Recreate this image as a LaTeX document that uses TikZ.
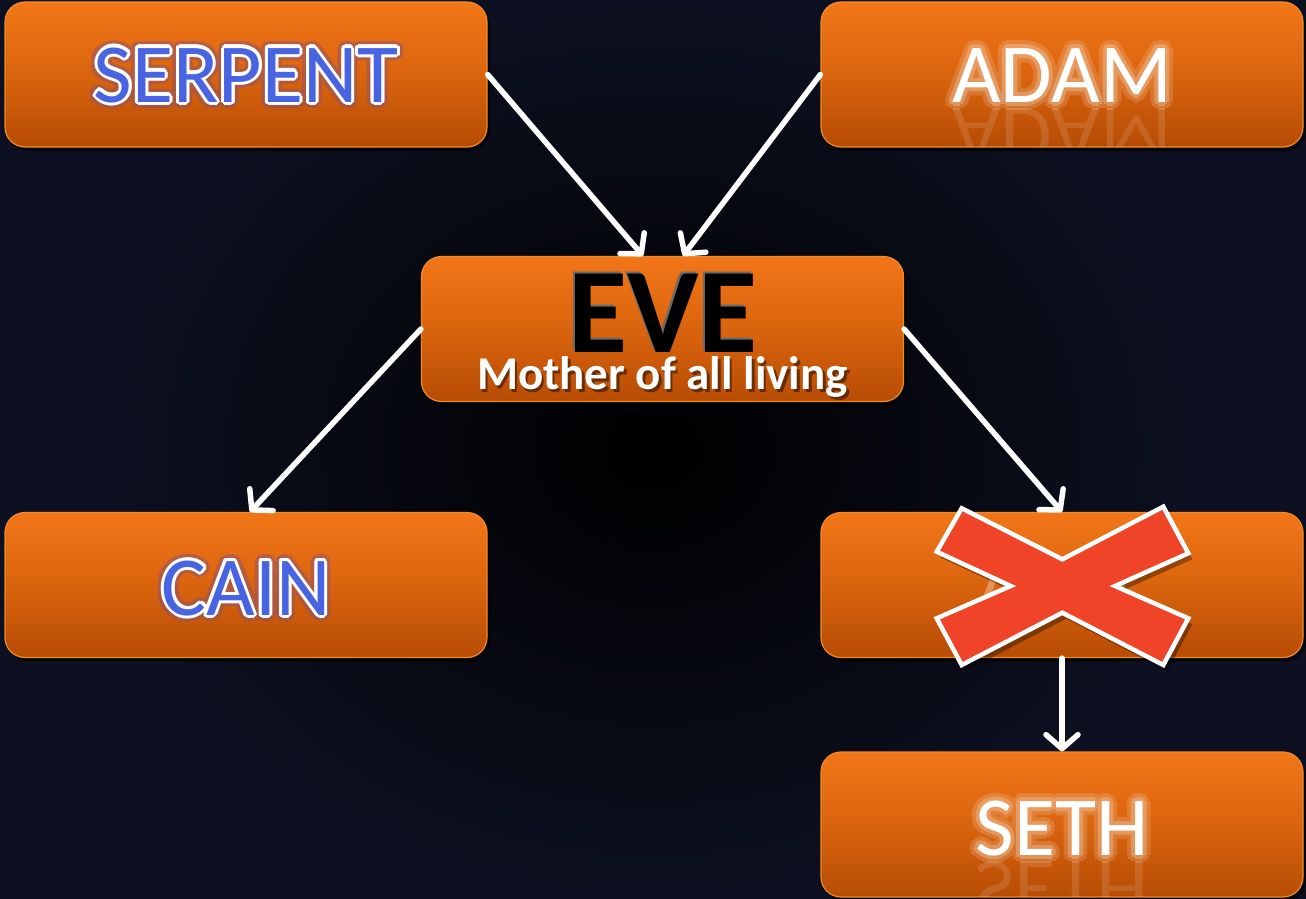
\documentclass[tikz,border=0pt]{standalone}
\usepackage{fontspec}
\setmainfont{Carlito}
\usetikzlibrary{arrows.meta,shadows,calc}
\definecolor{otop}{HTML}{F27618}
\definecolor{omid}{HTML}{DA640E}
\definecolor{obot}{HTML}{B64C04}
\definecolor{oedge}{HTML}{F08A2A}
\definecolor{bgout}{HTML}{0D1020}
\definecolor{txtblue}{HTML}{4864E2}
\definecolor{glowpurple}{HTML}{7A4A8C}
\definecolor{glowwhite}{HTML}{F6D2B4}
\definecolor{xred}{HTML}{EF4427}
\definecolor{bevel}{HTML}{6A6A6A}
\newcommand\bigfont{\fontsize{84}{90}\selectfont}
\newcommand\evefont{\bfseries\fontsize{121}{130}\selectfont}
\newcommand\subfont{\bfseries\fontsize{47}{52}\selectfont}
\tikzset{
  box/.style={rounded corners=20pt, minimum width=482pt, minimum height=145pt,
    inner sep=0pt, top color=otop, bottom color=obot, middle color=omid,
    draw=oedge, line width=1.2pt,
    drop shadow={shadow xshift=3pt, shadow yshift=-4pt, opacity=0.55, fill=black}},
  conn/.style={draw=white, line width=5.5pt, line cap=round,
    -{Straight Barb[length=14pt,width=32pt,round]}},
  txt/.style={anchor=base, inner sep=0pt},
}
% blue text with white outline and purple glow
\newcommand\bluetext[3]{%
  \begin{scope}[transparency group, opacity=0.4]
    \foreach \a in {0,30,...,330}{\node[txt,font=\bigfont,text=glowpurple] at ($(#2)+(\a:6.5pt)$) {#3};}
  \end{scope}
  \foreach \a in {0,30,...,330}{\node[txt,font=\bigfont,text=white] at ($(#2)+(\a:3pt)$) {#3};}
  \node[txt,font=\bigfont,text=txtblue] (#1) at (#2) {#3};
}
% white text with soft glow and reflection (#4 = box name for clipping)
\newcommand\whitetext[4]{%
  \begin{scope}
    \clip[rounded corners=20pt] ($(#4.north west)+(1,1)$) rectangle ($(#4.south east)+(-1,-1)$);
    \begin{scope}[transparency group, opacity=0.12]
      \node[txt,font=\bigfont,text=white,yscale=-1] at ($(#2)+(0,6)$) {#3};
    \end{scope}
  \end{scope}
  \begin{scope}[transparency group, opacity=0.22]
    \foreach \a in {0,30,...,330}{\node[txt,font=\bigfont,text=glowwhite] at ($(#2)+(\a:8pt)$) {#3};}
  \end{scope}
  \begin{scope}[transparency group, opacity=0.35]
    \foreach \a in {0,45,...,315}{\node[txt,font=\bigfont,text=glowwhite] at ($(#2)+(\a:4pt)$) {#3};}
  \end{scope}
  \node[txt,font=\bigfont,text=white] (#1) at (#2) {#3};
}
\begin{document}
\begin{tikzpicture}[x=1pt,y=-1pt]
\useasboundingbox (0,0) rectangle (1306,899);
\fill[bgout] (0,0) rectangle (1306,899);
\shade[inner color=black, outer color=bgout] (113,0) rectangle (1193,899);

% boxes
\node[box] (serpent) at (246,74.5) {};
\node[box] (adam)    at (1062,74.5) {};
\node[box] (eve)     at (662.5,329) {};
\node[box] (cain)    at (246,585) {};
\node[box] (abel)    at (1062,585) {};
\node[box] (seth)    at (1062,824.5) {};

% texts
\bluetext{tserpent}{246,102}{SERPENT}
\whitetext{tadam}{1062,102}{ADAM}{adam}
\bluetext{tcain}{246,615}{CAIN}
\whitetext{tseth}{1062,855}{SETH}{seth}
\begin{scope}[transparency group, opacity=0.3]
  \node[txt,font=\bigfont,text=white] (tabel) at (1062,615) {ABEL};
\end{scope}

% EVE
\node[txt,font=\evefont,text=bevel] at (661,350.5) {EVE};
\node[txt,font=\evefont,text=black] (teve) at (663,352.5) {EVE};
\node[txt,font=\subfont,text=black,opacity=0.45] at (665,392) {Mother of all living};
\node[txt,font=\subfont,text=white] (tmother) at (662.5,389.5) {Mother of all living};

% connectors
\draw[conn] (serpent.east) -- ($(eve.north)+(-19.5,0)$);
\draw[conn] (adam.west) -- ($(eve.north)+(20.5,0)$);
\draw[conn] (eve.west) -- ($(cain.north)+(4,0)$);
\draw[conn] (eve.east) -- (abel.north);
\draw[conn] (abel.south) -- (seth.north);

% red cross
\fill[black,opacity=0.35] ($(abel.center)+(4,6)$) ++(-125.3,-33.3) -- ++(25,-43.4) -- ++(100.6,51) -- ++(101,-52.6) -- ++(25,46.6) -- ++(-73.3,32.7) -- ++(73.3,32.3) -- ++(-25,46.7) -- ++(-101,-52.3) -- ++(-100.6,52.3) -- ++(-25,-46.7) -- ++(74,-32.3) -- cycle;
\draw[fill=xred, draw=white, line width=4.5pt, line join=miter]
  ($(abel.center)$) ++(-125.3,-33.3) -- ++(25,-43.4) -- ++(100.6,51) -- ++(101,-52.6) -- ++(25,46.6) -- ++(-73.3,32.7) -- ++(73.3,32.3) -- ++(-25,46.7) -- ++(-101,-52.3) -- ++(-100.6,52.3) -- ++(-25,-46.7) -- ++(74,-32.3) -- cycle;
\end{tikzpicture}
\end{document}
